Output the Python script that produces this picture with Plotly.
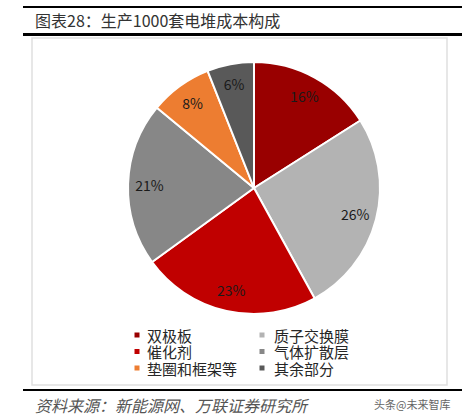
import plotly.graph_objects as go

categories = ["双极板", "质子交换膜", "催化剂", "气体扩散层", "垫圈和框架等", "其余部分"]
values = [16, 26, 23, 21, 8, 6]
colors = ["#990000", "#b3b3b3", "#c00000", "#878787", "#ed7d31", "#595959"]
title_text = "图表28：生产1000套电堆成本构成"
source_text = "资料来源：新能源网、万联证券研究所"
watermark_text = "头条@未来智库"

W, H = 462, 418
FONT = "Noto Sans CJK SC"

cx, cy, r = 254, 188, 126
pie_domain = dict(x=[(cx - r) / W, (cx + r) / W], y=[1 - (cy + r) / H, 1 - (cy - r) / H])

fig = go.Figure()
# visible slices
fig.add_trace(go.Pie(
    labels=categories,
    values=values,
    sort=False,
    direction="clockwise",
    rotation=0,
    marker=dict(colors=colors, line=dict(color="white", width=2)),
    textinfo="none",
    domain=pie_domain,
    showlegend=False,
    hoverinfo="label+percent",
))
# transparent ring carrying the percentage labels near the outer edge
fig.add_trace(go.Pie(
    labels=categories,
    values=values,
    sort=False,
    direction="clockwise",
    rotation=0,
    hole=0.66,
    marker=dict(colors=["rgba(0,0,0,0)"] * len(values), line=dict(width=0)),
    texttemplate="%{value}%",
    textposition="inside",
    insidetextorientation="horizontal",
    textfont=dict(family=FONT, size=14, color="#1a1a1a"),
    domain=pie_domain,
    showlegend=False,
    hoverinfo="skip",
))

shapes = []
annotations = []

# header / footer rules and panel box
shapes.append(dict(type="line", xref="paper", yref="paper", x0=23 / W, x1=1, y0=1 - 7 / H, y1=1 - 7 / H,
                   line=dict(color="#000000", width=2)))
shapes.append(dict(type="line", xref="paper", yref="paper", x0=23 / W, x1=1, y0=1 - 34.5 / H, y1=1 - 34.5 / H,
                   line=dict(color="#000000", width=3)))
shapes.append(dict(type="rect", xref="paper", yref="paper", x0=32 / W, x1=447 / W, y0=1 - 385 / H, y1=1 - 38 / H,
                   line=dict(color="#e0e0e0", width=1.5), layer="below"))
shapes.append(dict(type="line", xref="paper", yref="paper", x0=23 / W, x1=1, y0=1 - 390 / H, y1=1 - 390 / H,
                   line=dict(color="#000000", width=2)))

annotations.append(dict(text=title_text, xref="paper", yref="paper", x=33 / W, y=1 - 20.5 / H,
                        xanchor="left", yanchor="middle", showarrow=False,
                        font=dict(family=FONT, size=16, color="#333333")))
annotations.append(dict(text="<i>" + source_text + "</i>", xref="paper", yref="paper", x=33 / W, y=1 - 405 / H,
                        xanchor="left", yanchor="middle", showarrow=False,
                        font=dict(family=FONT, size=16, color="#555555")))
annotations.append(dict(text=watermark_text, xref="paper", yref="paper", x=452 / W, y=1 - 404 / H,
                        xanchor="right", yanchor="middle", showarrow=False,
                        font=dict(family=FONT, size=11, color="#666666")))

# legend (two columns, three rows)
col_marker_x = [137, 262]
col_text_x = [145, 272]
row_y = [335, 351.5, 368]
for i, (name, col) in enumerate(zip(categories, colors)):
    c, rw = i % 2, i // 2
    mx, my = col_marker_x[c], row_y[rw]
    shapes.append(dict(type="rect", xref="paper", yref="paper",
                       x0=(mx - 2.5) / W, x1=(mx + 2.5) / W, y0=1 - (my + 2.5) / H, y1=1 - (my - 2.5) / H,
                       fillcolor=col, line=dict(width=0)))
    annotations.append(dict(text=name, xref="paper", yref="paper", x=col_text_x[c] / W, y=1 - my / H,
                            xanchor="left", yanchor="middle", showarrow=False,
                            font=dict(family=FONT, size=15, color="#262626")))

fig.update_layout(
    width=W, height=H,
    margin=dict(l=0, r=0, t=0, b=0),
    paper_bgcolor="white", plot_bgcolor="white",
    shapes=shapes, annotations=annotations,
)

fig.write_html("out.html", config={"displayModeBar": False},
               post_script="document.body.style.margin='0';")
